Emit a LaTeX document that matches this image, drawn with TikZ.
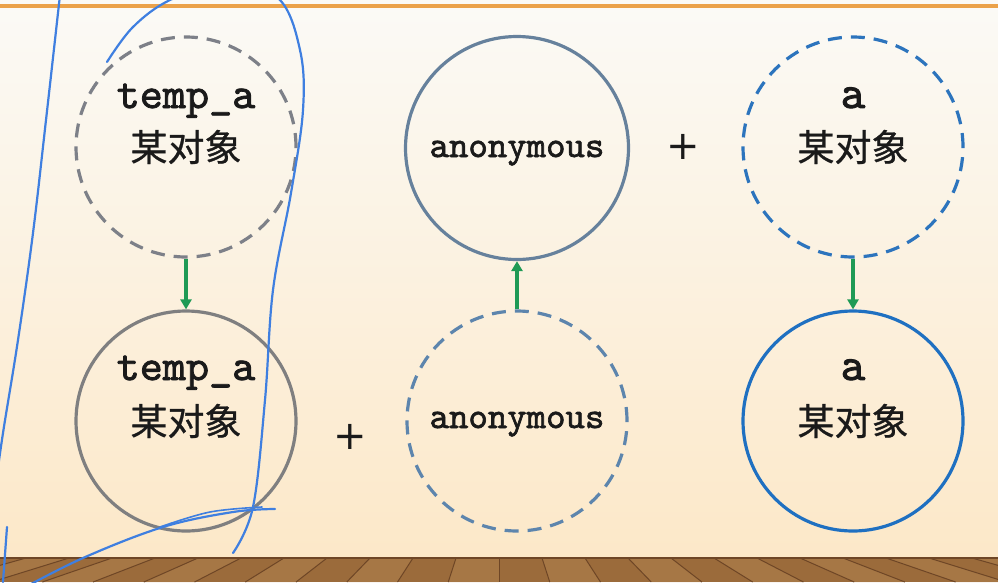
\documentclass[tikz,border=0pt]{standalone}
\usepackage{fontspec}
\setmainfont{Liberation Serif}
\newfontfamily\cjkfont[FakeBold=0.8]{Noto Sans CJK SC}
\newfontfamily\plusfont{DejaVu Sans}
\newfontfamily\monoface[FakeBold=1.8]{lmmono10-regular.otf}
\usetikzlibrary{arrows.meta}
\definecolor{bgtop}{HTML}{FBFAF6}
\definecolor{bgbot}{HTML}{FCE8C8}
\definecolor{orangeline}{HTML}{EBA24A}
\definecolor{graydash}{HTML}{7D8088}
\definecolor{graysolid}{HTML}{7F7F80}
\definecolor{bluegray}{HTML}{66819C}
\definecolor{bluegraydash}{HTML}{5D85AD}
\definecolor{bluedash}{HTML}{2C74BD}
\definecolor{bluesolid}{HTML}{1F70C1}
\definecolor{arrowgreen}{HTML}{1F9A55}
\definecolor{scribble}{HTML}{3F7FE0}
\definecolor{wood}{HTML}{9B6B3B}
\definecolor{woodlight}{HTML}{AE7F4D}
\definecolor{wooddark}{HTML}{6E4626}
\definecolor{ink}{HTML}{1A1A1A}
\begin{document}
\begin{tikzpicture}[x=1pt,y=-1pt,
  circ/.style={circle, minimum size=220pt, inner sep=0pt, line width=3.2pt},
  dsh/.style={dash pattern=on 14pt off 9pt},
  mono/.style={font=\monoface\fontsize{44}{44}\selectfont, text=ink, anchor=base, inner sep=0pt},
  monosmall/.style={font=\monoface\fontsize{37}{37}\selectfont, text=ink, anchor=base, inner sep=0pt},
  monobig/.style={font=\monoface\fontsize{47}{47}\selectfont, text=ink, anchor=base, inner sep=0pt},
  cjk/.style={font=\cjkfont\fontsize{37}{37}\selectfont, text=ink, inner sep=0pt},
  plus/.style={font=\plusfont\fontsize{40}{40}\selectfont, text=ink, inner sep=0pt},
  flow/.style={draw=arrowgreen, line width=3.4pt, -{Triangle[length=10pt,width=11pt]}},
  scrib/.style={draw=scribble, line width=2.2pt, line cap=round}]
\useasboundingbox (0,0) rectangle (998,582);
\clip (0,0) rectangle (998,582);
% background
\fill[bgtop] (0,0) rectangle (998,6);
\shade[top color=bgtop, bottom color=bgbot] (0,6) rectangle (998,558);
\draw[orangeline, line width=3.2pt] (0,6) -- (998,6);
% floor
\fill[wood] (0,558) rectangle (998,582);
\foreach \x [count=\i] in {-60,-17,26,69,112,155,198,241,284,327,370,413,456,499,542,585,628,671,714,757,800,843,886,929,972,1015}{
  \pgfmathsetmacro{\xb}{\x+(\x-499)*0.18}
  \pgfmathsetmacro{\xn}{\x+43}
  \pgfmathsetmacro{\xnb}{\xn+(\xn-499)*0.18}
  \ifodd\i
    \fill[woodlight, opacity=0.6] (\x,558) -- (\xn,558) -- (\xnb,582) -- (\xb,582) -- cycle;
  \fi
  \draw[wooddark, line width=1pt] (\x,558) -- (\xb,582);
}
\draw[wooddark, line width=1.5pt] (0,558) -- (998,558);
% circles
\node[circ, draw=graydash, dsh] (c1) at (186,147) {};
\node[circ, draw=graysolid] (c2) at (186,421) {};
\node[circ, draw=bluegray, minimum size=223pt] (c3) at (517,148) {};
\node[circ, draw=bluegraydash, dsh] (c4) at (517,421) {};
\node[circ, draw=bluedash, dsh] (c5) at (853,147) {};
\node[circ, draw=bluesolid] (c6) at (853,421) {};
% texts
\node[mono] (t1) at (186,108) {temp\_a};
\node[cjk] (k1) at (186,147) {某对象};
\node[mono] (t2) at (186,380) {temp\_a};
\node[cjk] (k2) at (186,421) {某对象};
\node[monosmall] (t3) at (517,157) {anonymous};
\node[monosmall] (t4) at (517,428) {anonymous};
\node[monobig] (t5) at (853,108) {a};
\node[cjk] (k5) at (853,147) {某对象};
\node[monobig] (t6) at (853,380) {a};
\node[cjk] (k6) at (853,421) {某对象};
\node[plus] (p1) at (683,147) {+};
\node[plus] (p2) at (350,437) {+};
% arrows
\draw[flow] (c1.south) -- (c2.north);
\draw[flow] (c4.north) -- (c3.south);
\draw[flow] (c5.south) -- (c6.north);
% hand-drawn annotation strokes
\draw[scrib] plot[smooth, tension=0.6] coordinates {(60,-5) (46,120) (33,233) (18,340) (3,433) (-5,490)};
\draw[scrib] (7,527) -- (3,582);
\draw[scrib] plot[smooth, tension=0.6] coordinates {(107,62) (133,27) (170,0) (225,-18) (278,-2) (300,50) (303,110) (291,193) (273,290) (265,400) (253,507) (233,553)};
\draw[scrib] plot[smooth, tension=0.6] coordinates {(20,590) (83,558) (163,527) (233,512) (275,509)};
\draw[scrib, line width=1.6pt] plot[smooth, tension=0.6] coordinates {(160,527) (210,512) (262,507)};
\end{tikzpicture}
\end{document}
